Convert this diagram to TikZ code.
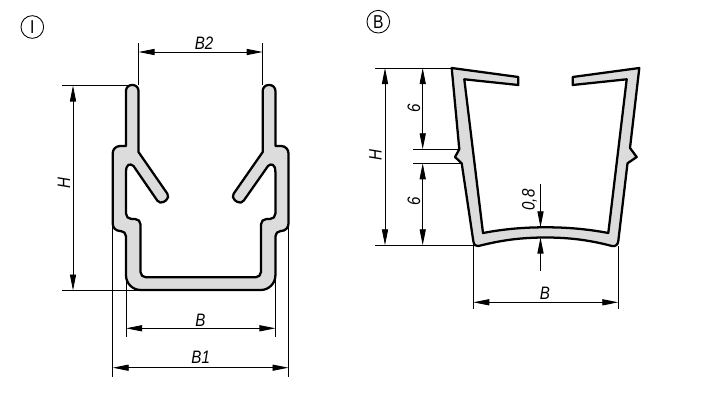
\documentclass[tikz,border=0pt]{standalone}
\usepackage{fontspec}
\setmainfont{Liberation Sans}
\newfontfamily\dimfont{Liberation Sans}[FakeStretch=0.84]
\usetikzlibrary{arrows.meta}

\definecolor{profilegray}{HTML}{DCDCDC}

\tikzset{
	profile/.style={draw=black,fill=profilegray,line width=1.7pt,line join=round},
	dimline/.style={line width=0.65pt},
	dimarrow/.style={dimline,{Triangle[length=12pt,width=4.6pt]}-{Triangle[length=12pt,width=4.6pt]}},
	endarrow/.style={dimline,-{Triangle[length=12pt,width=4.6pt]}},
	dimlabel/.style={font=\dimfont\fontsize{13.5}{14}\selectfont\itshape,inner sep=0pt},
	typemark/.style={draw,circle,line width=0.65pt,minimum size=17pt,inner sep=0pt,font=\dimfont\fontsize{14}{15}\selectfont}
}

\begin{document}
\begin{tikzpicture}[x=0.75pt,y=-0.75pt]
\useasboundingbox (0,0) rectangle (714,407);

\node[typemark] (markI) at (32.3,27) {I};
\node[typemark] (markB) at (378.3,21.7) {B};

% profile I
\draw[profile] (138.5,152) [rounded corners=4.4pt] -- (138.5,85) -- (126,85) [sharp corners] -- (126,146)
	[rounded corners=5.5pt] -- (112.7,146) -- (112.7,231) [rounded corners=4pt] -- (126,231)
	[rounded corners=11pt] -- (126,290) -- (275.4,290) [rounded corners=4pt] -- (275.4,231)
	[rounded corners=5.5pt] -- (288.5,231) -- (288.5,146) [sharp corners] -- (275.4,146)
	[rounded corners=4.4pt] -- (275.4,85) -- (262.7,85) [sharp corners] -- (262.7,152)
	[rounded corners=3.5pt] -- (231,197.5) -- (241,204.5) [sharp corners] -- (268,166)
	.. controls (271,163) and (275.4,164) .. (275.4,172)
	[rounded corners=4pt] -- (275.4,219) -- (261,219) [rounded corners=4pt] -- (261,277.3) -- (140.5,277.3)
	-- (140.5,219) -- (126,219) [sharp corners] -- (126,172)
	.. controls (126,164) and (130,163) .. (133.5,166)
	[rounded corners=3.5pt] -- (160,204.5) -- (170,197.5) [sharp corners] -- cycle;

\draw[dimline] (138.5,43) -- (138.5,85);
\draw[dimline] (262.7,43) -- (262.7,85);
\draw[dimarrow] (138.5,52) -- (262.7,52);
\node[dimlabel] (labB2) at (204,43) {B2};

\draw[dimline] (62,85.5) -- (130,85.5);
\draw[dimline] (62,290.5) -- (142,290.5);
\draw[dimarrow] (73,85.5) -- (73,290.5);
\node[dimlabel,rotate=90] (labHI) at (64,183) {H};

\draw[dimline] (126,272) -- (126,337);
\draw[dimline] (275.4,272) -- (275.4,337);
\draw[dimarrow] (126,328.3) -- (275.4,328.3);
\node[dimlabel] (labB) at (200.5,320) {B};

\draw[dimline] (112.7,222) -- (112.7,377);
\draw[dimline] (288.5,222) -- (288.5,377);
\draw[dimarrow] (112.7,367.7) -- (288.5,367.7);
\node[dimlabel] (labB1) at (200.7,357.5) {B1};

% profile B
\draw[profile] (451.7,68) -- (518.3,77) -- (518.3,85) -- (464.3,79.3) -- (483,233)
	.. controls (505,228.8) and (525,227.3) .. (545.5,227.3)
	.. controls (566,227.3) and (586,228.8) .. (608.3,233)
	-- (626.7,79.3) -- (572.7,85) -- (572.7,77) -- (639.3,68) -- (630,148)
	-- (636.7,157) -- (627.5,163.3) -- (618.3,241)
	.. controls (618,245) and (615,246.8) .. (612,246)
	.. controls (591,240.5) and (571,237.5) .. (545.5,237.5)
	.. controls (520,237.5) and (500,240.5) .. (478.5,246)
	.. controls (476,246.8) and (473.8,245) .. (473.3,241)
	-- (461.7,163.3) -- (455,157) -- (459.3,149.3) -- cycle;

\draw[dimline] (375,68) -- (452,68);
\draw[dimline] (375,245.3) -- (475,245.3);
\draw[dimarrow] (385,68) -- (385,245.3);
\node[dimlabel,rotate=90] (labHB) at (375.5,155) {H};

\draw[dimline] (413.3,149.3) -- (459,149.3);
\draw[dimline] (413.3,163.3) -- (461,163.3);
\draw[dimarrow] (422.7,68) -- (422.7,149.3);
\draw[dimarrow] (422.7,163.3) -- (422.7,245.3);
\node[dimlabel,rotate=90] (labSixTop) at (414,108) {6};
\node[dimlabel,rotate=90] (labSixLow) at (414,201.7) {6};

\draw[endarrow] (540.5,184) -- (540.5,227.3);
\draw[endarrow] (540.5,270.7) -- (540.5,237.5);
\node[dimlabel,rotate=90] (labWall) at (529.5,200) {0,8};

\draw[dimline] (473.3,246) -- (473.3,309);
\draw[dimline] (618.3,246) -- (618.3,309);
\draw[dimarrow] (473.3,302.3) -- (618.3,302.3);
\node[dimlabel] (labBB) at (545,293) {B};
\end{tikzpicture}
\end{document}
